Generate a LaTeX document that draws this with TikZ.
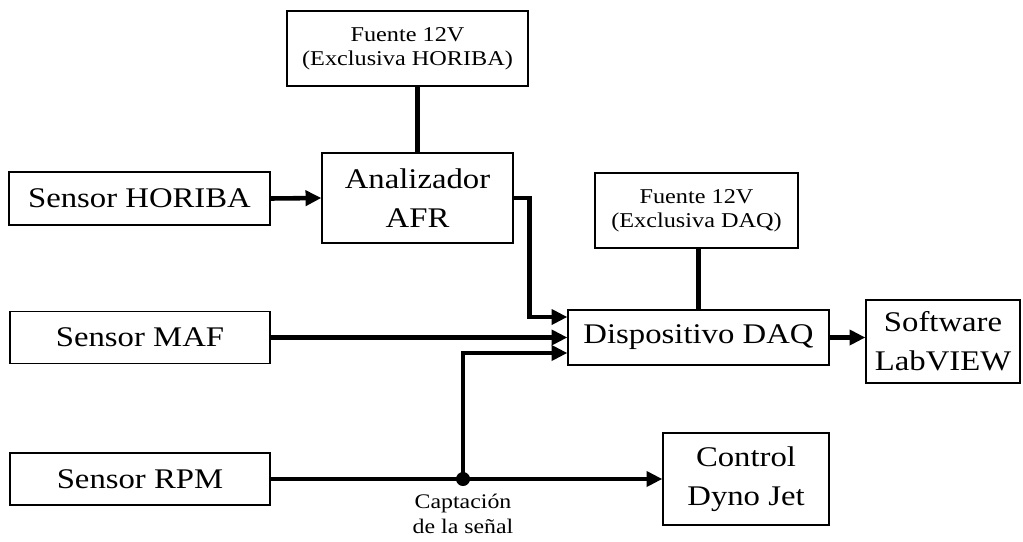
\documentclass[tikz,border=0pt]{standalone}
\usepackage{fontspec}
\setmainfont{Liberation Serif}
\usepackage{graphicx}
\usetikzlibrary{arrows.meta}
\newcommand{\wide}[1]{\scalebox{1.15}[1]{#1}}

\begin{document}
\begin{tikzpicture}[
  x=0.02cm, y=-0.02cm,
  >={Triangle[length=9pt,width=8.5pt]},
  dims/.style 2 args={minimum width=#1, minimum height=#2},
  blk/.style={draw, line width=0.75pt, inner sep=0pt, align=center, font=\fontsize{16.2}{22}\selectfont},
  psu/.style={blk, font=\fontsize{12}{13.6}\selectfont},
  lbl/.style={inner sep=0pt, align=center, font=\fontsize{11.8}{14.6}\selectfont},
  dot/.style={circle, fill, inner sep=0pt, minimum size=0.28cm},
  link/.style={line width=2.6pt},
  flow/.style={link, ->}
]
  \useasboundingbox (0,0) rectangle (1023,541);

  % power supplies
  \node[psu, dims={4.82cm}{1.5cm}] (psuH) at (407.5,48.5) {\wide{Fuente 12V}\\\wide{(Exclusiva HORIBA)}};
  \node[psu, dims={4.06cm}{1.5cm}] (psuD) at (696.5,210.5) {\wide{Fuente 12V}\\\wide{(Exclusiva DAQ)}};

  % blocks
  \node[blk, dims={5.22cm}{1.06cm}] (horiba) at (139.5,198.5) {\wide{Sensor HORIBA}};
  \node[blk, dims={3.82cm}{1.8cm}] (afr) at (417.5,198) {\wide{Analizador}\\\wide{AFR}};
  \node[blk, dims={5.2cm}{1.04cm}] (maf) at (140,337.5) {\wide{Sensor MAF}};
  \node[blk, dims={5.2cm}{1.04cm}] (rpm) at (140,479) {\wide{Sensor RPM}};
  \node[blk, dims={5.22cm}{1.1cm}] (daq) at (698.5,337.5) {\wide{Dispositivo DAQ}};
  \node[blk, dims={3.08cm}{1.66cm}] (sw) at (943,341.5) {\wide{Software}\\\wide{LabVIEW}};
  \node[blk, dims={3.32cm}{1.84cm}] (dyno) at (746,479) {\wide{Control}\\\wide{Dyno Jet}};

  % signal tap
  \node[dot] (tap) at (463,479) {};
  \node[lbl] (taplbl) at (463,514) {\wide{Captación}\\\wide{de la señal}};

  % supply lines
  \draw[link] (afr.north) -- (afr.north |- psuH.south);
  \draw[link] (daq.north) -- (daq.north |- psuD.south);

  % signals
  \draw[flow] (horiba.east) -- (afr.west);
  \draw[flow] (afr.east) -- ++(16,0) |- ([yshift=0.41cm]daq.west);
  \draw[flow] (maf.east) -- (daq.west);
  \draw[flow] (tap.center) |- ([yshift=-0.31cm]daq.west);
  \draw[flow] (rpm.east) -- (dyno.west |- rpm.east);
  \draw[flow] (daq.east) -- (sw.west |- daq.east);
\end{tikzpicture}
\end{document}
